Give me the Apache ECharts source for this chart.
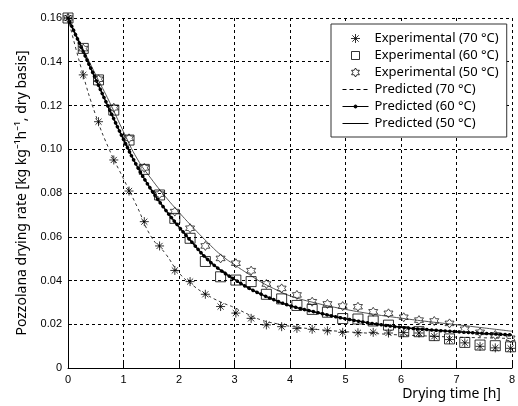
<!DOCTYPE html>
<html>
<head>
<meta charset="utf-8">
<script src="https://cdn.jsdelivr.net/npm/echarts@6/dist/echarts.min.js"></script>
<style>html,body{margin:0;padding:0;background:#fff}#c{width:518px;height:406px}</style>
</head>
<body>
<div id="c"></div>
<script>
// ---- data ----
const expTime = [0, 0.275, 0.55, 0.825, 1.1, 1.375, 1.65, 1.925, 2.2, 2.475, 2.75, 3.025, 3.3, 3.575, 3.85, 4.125, 4.4, 4.675, 4.95, 5.225, 5.5, 5.775, 6.05, 6.325, 6.6, 6.875, 7.15, 7.425, 7.7, 7.975];
const exp70 = [0.160, 0.134, 0.1126, 0.0951, 0.0809, 0.0669, 0.0558, 0.0446, 0.0395, 0.0337, 0.0281, 0.0251, 0.0227, 0.0197, 0.0189, 0.0181, 0.0177, 0.0170, 0.0163, 0.0161, 0.0163, 0.0160, 0.0162, 0.0160, 0.0145, 0.0130, 0.0115, 0.0099, 0.0092, 0.0090];
const exp60 = [0.160, 0.1461, 0.1317, 0.1179, 0.1042, 0.0908, 0.0791, 0.0684, 0.0593, 0.0487, 0.0417, 0.0402, 0.0395, 0.0337, 0.0316, 0.0286, 0.0268, 0.0255, 0.0226, 0.0224, 0.0215, 0.0196, 0.0166, 0.0166, 0.0148, 0.0133, 0.0117, 0.0105, 0.0102, 0.0097];
const exp50 = [0.160, 0.146, 0.132, 0.119, 0.105, 0.0915, 0.0795, 0.0715, 0.0639, 0.0558, 0.0501, 0.0479, 0.0445, 0.0384, 0.0364, 0.0334, 0.0303, 0.0293, 0.0283, 0.0280, 0.0257, 0.0250, 0.0232, 0.0219, 0.0215, 0.0204, 0.0177, 0.0163, 0.0151, 0.0136];

const predTime = [0, 0.25, 0.5, 0.75, 1.0, 1.25, 1.5, 1.75, 2.0, 2.25, 2.5, 2.75, 3.0, 3.25, 3.5, 3.75, 4.0, 4.5, 5.0, 5.5, 6.0, 6.5, 7.0, 7.5, 8.0];
const pred70 = [0.160, 0.136, 0.1155, 0.0995, 0.0865, 0.0735, 0.0600, 0.0525, 0.0435, 0.0378, 0.0335, 0.0302, 0.0276, 0.0245, 0.0218, 0.0203, 0.0191, 0.0176, 0.0166, 0.0158, 0.0151, 0.0146, 0.0141, 0.0138, 0.0135];
const pred60 = [0.160, 0.146, 0.132, 0.118, 0.1045, 0.092, 0.0815, 0.0725, 0.0645, 0.0570, 0.0500, 0.0447, 0.0405, 0.0366, 0.0335, 0.0308, 0.0285, 0.0253, 0.0225, 0.0203, 0.0186, 0.0175, 0.0166, 0.0158, 0.0151];
const pred50 = [0.160, 0.147, 0.134, 0.1215, 0.108, 0.0955, 0.0865, 0.0785, 0.0712, 0.0643, 0.0578, 0.0518, 0.0472, 0.0430, 0.0390, 0.0358, 0.0330, 0.0295, 0.0268, 0.0246, 0.0228, 0.0212, 0.0198, 0.0183, 0.0168];

const seriesNames = ['Experimental (70 °C)', 'Experimental (60 °C)', 'Experimental (50 °C)', 'Predicted (70 °C)', 'Predicted (60 °C)', 'Predicted (50 °C)'];
const xTicks = [0, 1, 2, 3, 4, 5, 6, 7, 8];
const yTicks = [0, 0.02, 0.04, 0.06, 0.08, 0.10, 0.12, 0.14, 0.16];
const xTitle = 'Drying time [h]';
const yTitle = 'Pozzolana drying rate [kg kg\u207B\u00B9h\u207B\u00B9, dry basis]';

// ---- helpers ----
const pairs = (xs, ys) => xs.map((x, i) => [x, ys[i]]);
const asteriskPath = 'path://M5 0 L5 10 M0 5 L10 5 M1.6 1.6 L8.4 8.4 M8.4 1.6 L1.6 8.4';
const squarePath = 'path://M0 0 L10 0 L10 10 L0 10 Z';
const starPath = 'path://M5 0 L6.44 2.5 L9.33 2.5 L7.89 5 L9.33 7.5 L6.44 7.5 L5 10 L3.56 7.5 L0.67 7.5 L2.11 5 L0.67 2.5 L3.56 2.5 Z';
const pad = 'M0 0 M28 14 ';
const legendIcons = [
  'path://' + pad + 'M14 2.5 L14 11.5 M9.5 7 L18.5 7 M10.8 3.8 L17.2 10.2 M17.2 3.8 L10.8 10.2',
  'path://' + pad + 'M10 3 L18 3 L18 11 L10 11 Z',
  'path://' + pad + 'M14 2.5 L15.3 4.75 L17.9 4.75 L16.6 7 L17.9 9.25 L15.3 9.25 L14 11.5 L12.7 9.25 L10.1 9.25 L11.4 7 L10.1 4.75 L12.7 4.75 Z',
  'path://' + pad + 'M1 7 L5 7 M8 7 L12 7 M15 7 L19 7 M22 7 L26 7',
  'path://' + pad + 'M1 7 L27 7 M12.5 7 A1.5 1.5 0 1 1 15.5 7 A1.5 1.5 0 1 1 12.5 7 Z',
  'path://' + pad + 'M1 7 L27 7'
];
const legendFills = ['#000', 'rgba(0,0,0,0)', 'rgba(0,0,0,0)', '#000', '#000', '#000'];

const chart = echarts.init(document.getElementById('c'), null, {renderer: 'canvas'});
const FONT = 'Noto Sans';
chart.setOption({
  animation: false,
  backgroundColor: '#fff',
  grid: {left: 68, right: 4, top: 18, bottom: 38, containLabel: false},
  xAxis: {
    type: 'value', min: xTicks[0], max: xTicks[xTicks.length - 1], interval: 1,
    name: xTitle, nameLocation: 'end', nameGap: -11,
    nameTextStyle: {fontFamily: FONT, fontSize: 14, color: '#000', align: 'right', verticalAlign: 'top', padding: [19, 0, 0, 0]},
    axisLine: {lineStyle: {color: '#000', width: 1}},
    axisTick: {inside: true, length: 5, lineStyle: {color: '#000'}},
    axisLabel: {color: '#000', fontFamily: 'Liberation Sans', fontSize: 11, margin: 6},
    splitLine: {show: true, lineStyle: {color: '#000', type: [3, 3], width: 1}}
  },
  yAxis: {
    type: 'value', min: yTicks[0], max: yTicks[yTicks.length - 1], interval: 0.02,
    name: yTitle, nameLocation: 'middle', nameGap: 39,
    nameTextStyle: {fontFamily: FONT, fontSize: 14, color: '#000'},
    axisLine: {show: true, lineStyle: {color: '#000', width: 1}},
    axisTick: {show: true, inside: true, length: 4, lineStyle: {color: '#000'}},
    axisLabel: {color: '#000', fontFamily: 'Liberation Sans', fontSize: 11, margin: 6,
      formatter: v => (v === 0 ? '0' : v.toFixed(2))},
    splitLine: {show: true, lineStyle: {color: '#000', type: [3, 3], width: 1}}
  },
  legend: {
    orient: 'vertical', left: 331, top: 24,
    padding: [7, 8, 6, 10], itemGap: 2, itemWidth: 28, itemHeight: 14,
    borderColor: '#333', borderWidth: 1, backgroundColor: '#fff',
    textStyle: {fontFamily: FONT, fontSize: 13, color: '#000'},
    data: seriesNames.map((n, i) => ({
      name: n, icon: legendIcons[i],
      itemStyle: {color: legendFills[i], borderColor: '#000', borderWidth: 1, borderType: 'solid'}
    }))
  },
  series: [
    {name: seriesNames[3], type: 'line', smooth: true, showSymbol: false, symbol: 'none', z: 2,
      data: pairs(predTime, pred70), lineStyle: {color: '#333', width: 1, type: [3, 3]}, itemStyle: {color: '#333'}},
    {name: seriesNames[5], type: 'line', smooth: true, showSymbol: false, symbol: 'none', z: 2,
      data: pairs(predTime, pred50), lineStyle: {color: '#555', width: 1}, itemStyle: {color: '#555'}},
    {name: seriesNames[4], type: 'line', smooth: true, showSymbol: false, symbol: 'none', z: 3,
      data: pairs(predTime, pred60), lineStyle: {color: '#000', width: 1.5}, itemStyle: {color: '#000'}},
    {name: 'pred60dots', type: 'line', smooth: true, showSymbol: false, symbol: 'none', z: 3, silent: true,
      data: pairs(predTime, pred60), lineStyle: {color: '#000', width: 3.5, type: [0.1, 4.5], cap: 'round'}, itemStyle: {color: '#000'}},
    {name: seriesNames[2], type: 'scatter', symbol: starPath, symbolSize: 9, z: 4,
      data: pairs(expTime, exp50), itemStyle: {color: 'rgba(0,0,0,0)', borderColor: '#222', borderWidth: 1}},
    {name: seriesNames[1], type: 'scatter', symbol: squarePath, symbolSize: 10, z: 4,
      data: pairs(expTime, exp60), itemStyle: {color: 'rgba(0,0,0,0)', borderColor: '#000', borderWidth: 1}},
    {name: seriesNames[0], type: 'scatter', symbol: asteriskPath, symbolSize: 9, z: 5,
      data: pairs(expTime, exp70), itemStyle: {color: '#000', borderColor: '#000', borderWidth: 1}}
  ]
});
</script>
</body>
</html>
